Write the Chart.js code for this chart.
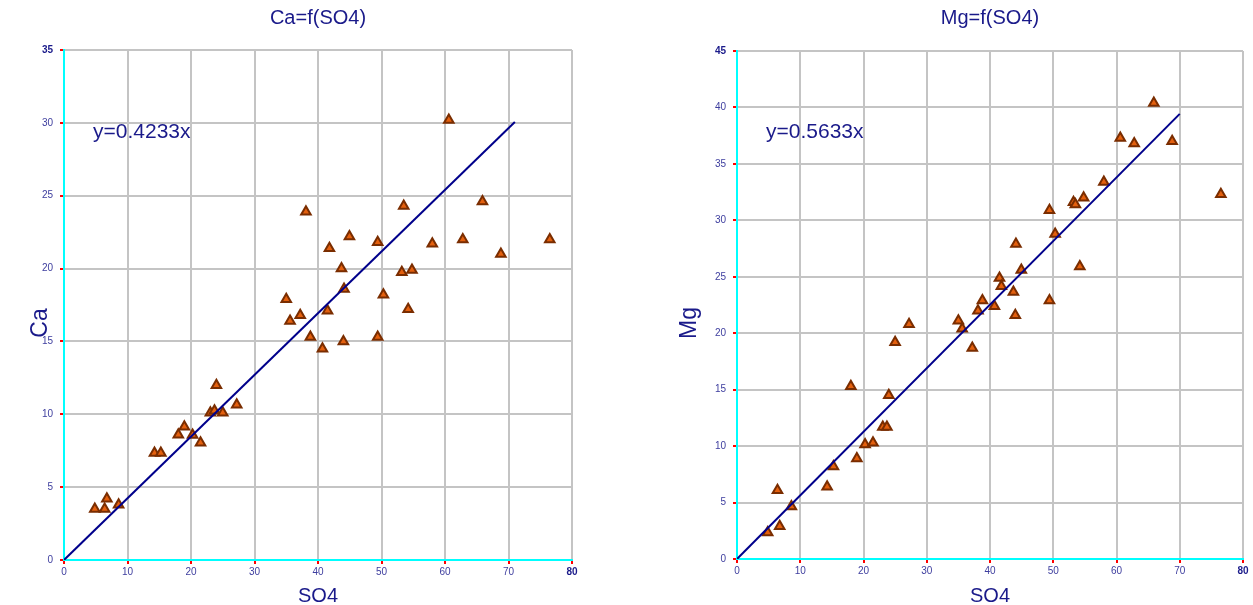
<!DOCTYPE html>
<html>
<head>
<meta charset="utf-8">
<title>Ca and Mg versus SO4</title>
<script src="https://cdn.jsdelivr.net/npm/chart.js@4"></script>
<style>
  html, body { margin: 0; padding: 0; background: #ffffff; }
  #wrap { position: relative; width: 1253px; height: 605px; overflow: hidden; }
  canvas { position: absolute; top: 0; }
</style>
</head>
<body>
<div id="wrap">
  <canvas id="caChart" width="630" height="605" style="left:0"></canvas>
  <canvas id="mgChart" width="623" height="605" style="left:630px"></canvas>
</div>
<script>
// Sulphate concentration of each sample (shared x values of both plots)
const so4 = [4.85, 6.4, 6.75, 8.6, 14.25, 15.25, 18.0, 18.95, 20.25, 21.5,
             23.05, 23.7, 24.0, 25.0, 27.2, 35.0, 35.6, 37.2, 38.1, 38.8,
             40.7, 41.5, 41.8, 43.7, 44.0, 44.1, 44.95, 49.4, 49.4, 50.3,
             53.2, 53.5, 54.2, 54.8, 58.0, 60.6, 62.8, 65.9, 68.8, 76.5];
// Calcium of the same samples
const ca = [3.5, 3.5, 4.2, 3.8, 7.35, 7.35, 8.6, 9.15, 8.57, 8.05,
            10.1, 10.25, 12.0, 10.1, 10.65, 17.9, 16.4, 16.8, 23.9, 15.3,
            14.5, 17.1, 21.4, 20.0, 15.0, 18.6, 22.2, 21.8, 15.3, 18.2,
            19.75, 24.3, 17.2, 19.9, 21.7, 30.2, 22.0, 24.6, 21.0, 22.0];
// Magnesium of the same samples
const mg = [2.35, 6.1, 2.9, 4.65, 6.4, 8.2, 15.3, 8.9, 10.15, 10.3,
            11.7, 11.7, 14.5, 19.2, 20.8, 21.1, 20.4, 18.7, 22.0, 22.9,
            22.4, 24.9, 24.15, 23.65, 21.6, 27.9, 25.6, 30.9, 22.9, 28.8,
            31.6, 31.4, 25.9, 32.0, 33.4, 37.3, 36.8, 40.4, 37.0, 32.3];

// Fitted slopes (line through the origin) and where each fit line stops
const caSlope = 0.4233;
const mgSlope = 0.5633;
const caFitEnd = 71;
const mgFitEnd = 70;

// Axis ranges and tick steps
const so4Max = 80, so4Step = 10;
const caMax = 35, caStep = 5;
const mgMax = 45, mgStep = 5;

const FONT = "'Liberation Sans', Arial, sans-serif";
const NAVY = '#1a1a8a';
const TICK_BLUE = '#3d3d9e';

// Draws the chart title, the axis titles and the fit equation
const annotations = {
  id: 'annotations',
  afterDraw(chart, args, opts) {
    const ctx = chart.ctx;
    const a = chart.chartArea;
    ctx.save();
    ctx.fillStyle = NAVY;
    ctx.textBaseline = 'middle';
    ctx.textAlign = 'center';
    ctx.font = '20px ' + FONT;
    ctx.fillText(opts.title, (a.left + a.right) / 2, 18);
    ctx.fillText(opts.xTitle, (a.left + a.right) / 2, 596);
    ctx.textAlign = 'left';
    ctx.font = '21px ' + FONT;
    ctx.fillText(opts.equation, a.left + 29, 132);
    ctx.translate(opts.yTitleX, (a.top + a.bottom) / 2 + 18);
    ctx.rotate(-Math.PI / 2);
    ctx.textAlign = 'center';
    ctx.font = '23px ' + FONT;
    ctx.fillText(opts.yTitle, 0, 0);
    ctx.restore();
  }
};

function makeChart(id, cfg) {
  const canvas = document.getElementById(id);
  const W = canvas.width, H = canvas.height;
  const points = so4.map((x, i) => ({ x: x, y: cfg.values[i] }));
  const fit = [{ x: 0, y: 0 }, { x: cfg.fitEnd, y: cfg.slope * cfg.fitEnd }];

  const tickFont = (max) => (c) => (c.tick && c.tick.value === max)
    ? { family: FONT, size: 10, weight: 'bold' }
    : { family: FONT, size: 10 };
  const tickColor = (max) => (c) => (c.tick && c.tick.value === max) ? NAVY : TICK_BLUE;

  return new Chart(canvas, {
    type: 'scatter',
    data: {
      datasets: [
        {
          type: 'line',
          data: fit,
          borderColor: '#00008b',
          borderWidth: 2,
          pointRadius: 0,
          fill: false,
          order: 0
        },
        {
          data: points,
          pointStyle: 'triangle',
          pointRadius: 5.5,
          backgroundColor: '#e4600e',
          borderColor: '#7a2d00',
          borderWidth: 2,
          order: 1
        }
      ]
    },
    options: {
      responsive: false,
      animation: false,
      layout: { padding: { top: cfg.area.top, right: W - cfg.area.right, left: 0, bottom: 0 } },
      plugins: {
        legend: { display: false },
        tooltip: { enabled: false },
        annotations: {
          title: cfg.title,
          xTitle: 'SO4',
          yTitle: cfg.yTitle,
          yTitleX: cfg.yTitleX,
          equation: 'y=' + cfg.slope.toFixed(4) + 'x'
        }
      },
      scales: {
        x: {
          type: 'linear',
          min: 0,
          max: so4Max,
          afterFit: (s) => { s.height = H - cfg.area.bottom; },
          border: { color: '#00ffff', width: 2 },
          grid: { color: '#c4c4c4', lineWidth: 2, tickColor: '#ff0000', tickLength: 4, tickWidth: 2 },
          ticks: {
            stepSize: so4Step,
            autoSkip: false,
            maxRotation: 0,
            padding: 2,
            font: tickFont(so4Max),
            color: tickColor(so4Max)
          }
        },
        y: {
          type: 'linear',
          min: 0,
          max: cfg.yMax,
          afterFit: (s) => { s.width = cfg.area.left; },
          border: { color: '#00ffff', width: 2 },
          grid: { color: '#c4c4c4', lineWidth: 2, tickColor: '#ff0000', tickLength: 4, tickWidth: 2 },
          ticks: {
            stepSize: cfg.yStep,
            autoSkip: false,
            padding: 7,
            font: tickFont(cfg.yMax),
            color: tickColor(cfg.yMax)
          }
        }
      }
    },
    plugins: [annotations]
  });
}

makeChart('caChart', {
  values: ca, slope: caSlope, fitEnd: caFitEnd,
  yMax: caMax, yStep: caStep,
  title: 'Ca=f(SO4)', yTitle: 'Ca', yTitleX: 41,
  area: { left: 64, right: 572, top: 50, bottom: 560 }
});

makeChart('mgChart', {
  values: mg, slope: mgSlope, fitEnd: mgFitEnd,
  yMax: mgMax, yStep: mgStep,
  title: 'Mg=f(SO4)', yTitle: 'Mg', yTitleX: 60,
  area: { left: 107, right: 613, top: 51, bottom: 559 }
});
</script>
</body>
</html>
